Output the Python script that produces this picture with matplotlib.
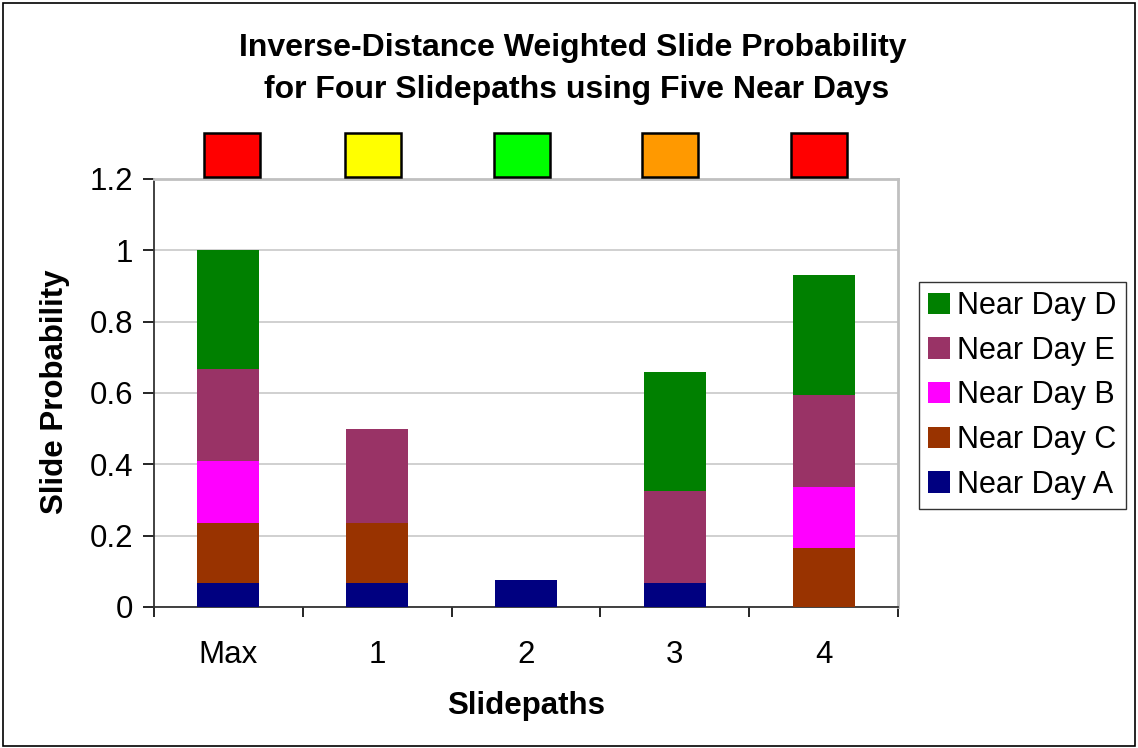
import matplotlib
matplotlib.use("Agg")
import matplotlib.pyplot as plt
from matplotlib.patches import Rectangle

plt.rcParams['font.family'] = ['Liberation Sans', 'DejaVu Sans']

categories = ["Max", "1", "2", "3", "4"]
series_names = ["Near Day A", "Near Day C", "Near Day B", "Near Day E", "Near Day D"]
near_day_a = [0.068, 0.068, 0.075, 0.068, 0.0]
near_day_c = [0.168, 0.168, 0.0, 0.0, 0.165]
near_day_b = [0.172, 0.0, 0.0, 0.0, 0.172]
near_day_e = [0.258, 0.264, 0.0, 0.257, 0.256]
near_day_d = [0.334, 0.0, 0.0, 0.335, 0.338]
series_colors = ["#000080", "#993300", "#FF00FF", "#993366", "#008000"]
status_colors = ["#FF0000", "#FFFF00", "#00FF00", "#FF9900", "#FF0000"]
y_ticks = [0, 0.2, 0.4, 0.6, 0.8, 1, 1.2]
y_tick_labels = ["0", "0.2", "0.4", "0.6", "0.8", "1", "1.2"]

# small horizontal nudges of the status boxes (axis units)
box_shift = [0.027, -0.03, -0.03, -0.03, -0.03]

W, H = 1138, 748
fig = plt.figure(figsize=(W / 100, H / 100), dpi=100)
ax = fig.add_axes([154 / W, 1 - 607 / H, 744 / W, 428 / H])

x = list(range(len(categories)))
bottom = [0.0] * len(categories)
handles = {}
for name, vals, col in zip(series_names,
                           [near_day_a, near_day_c, near_day_b, near_day_e, near_day_d],
                           series_colors):
    bars = ax.bar(x, vals, width=0.417, bottom=bottom, color=col, label=name,
                  zorder=3, linewidth=0)
    handles[name] = bars
    bottom = [b + v for b, v in zip(bottom, vals)]

# status boxes above each slidepath
for xi, c, dx in zip(x, status_colors, box_shift):
    ax.add_patch(Rectangle((xi + dx - 0.188, 1.207), 0.376, 0.123, facecolor=c,
                           edgecolor="black", linewidth=1.8, clip_on=False, zorder=4))

ax.set_xlim(-0.5, 4.5)
ax.set_ylim(0, 1.2)
ax.set_yticks(y_ticks)
ax.set_yticklabels(y_tick_labels, fontsize=22.5)
ax.set_xticks([i - 0.5 for i in range(len(categories) + 1)])
ax.set_xticklabels([])
ax.set_xticks(x, minor=True)
ax.set_xticklabels(categories, minor=True, fontsize=22.5)
ax.tick_params(axis="x", which="major", length=7.5, width=1.2, direction="out")
ax.tick_params(axis="x", which="minor", length=0, pad=24)
ax.tick_params(axis="y", length=8, width=1.2, direction="out", pad=7)

ax.yaxis.grid(True, color="#c8c8c8", linewidth=1.2, zorder=0)
ax.set_axisbelow(True)
for s in ["top", "right"]:
    ax.spines[s].set_color("#c0c0c0")
    ax.spines[s].set_linewidth(2)
for s in ["left", "bottom"]:
    ax.spines[s].set_color("#333333")
    ax.spines[s].set_linewidth(1.3)

fig.text(526 / W, 1 - 706 / H, "Slidepaths", ha="center", va="center",
         fontsize=22.5, fontweight="bold")
fig.text(55 / W, 1 - 392 / H, "Slide Probability", ha="center", va="center",
         rotation=90, fontsize=22.5, fontweight="bold")

fig.text(573 / W, 1 - 48 / H, "Inverse-Distance Weighted Slide Probability",
         ha="center", va="center", fontsize=23, fontweight="bold")
fig.text(577 / W, 1 - 90 / H, "for Four Slidepaths using Five Near Days",
         ha="center", va="center", fontsize=23, fontweight="bold")

order = ["Near Day D", "Near Day E", "Near Day B", "Near Day C", "Near Day A"]
leg = fig.legend([handles[n] for n in order], order, loc="upper left",
                 bbox_to_anchor=(919 / W, 1 - 282 / H), fontsize=22,
                 frameon=True, fancybox=False, edgecolor="black",
                 handlelength=0.7, handleheight=0.7, handletextpad=0.25,
                 labelspacing=0.48, borderpad=0.3, borderaxespad=0)
leg.get_frame().set_linewidth(1.0)

fig.add_artist(Rectangle((3 / W, 2 / H), 1 - 6 / W, 1 - 5 / H,
                         transform=fig.transFigure, fill=False,
                         edgecolor="black", linewidth=1.2))

fig.savefig("out.png", dpi=100)
